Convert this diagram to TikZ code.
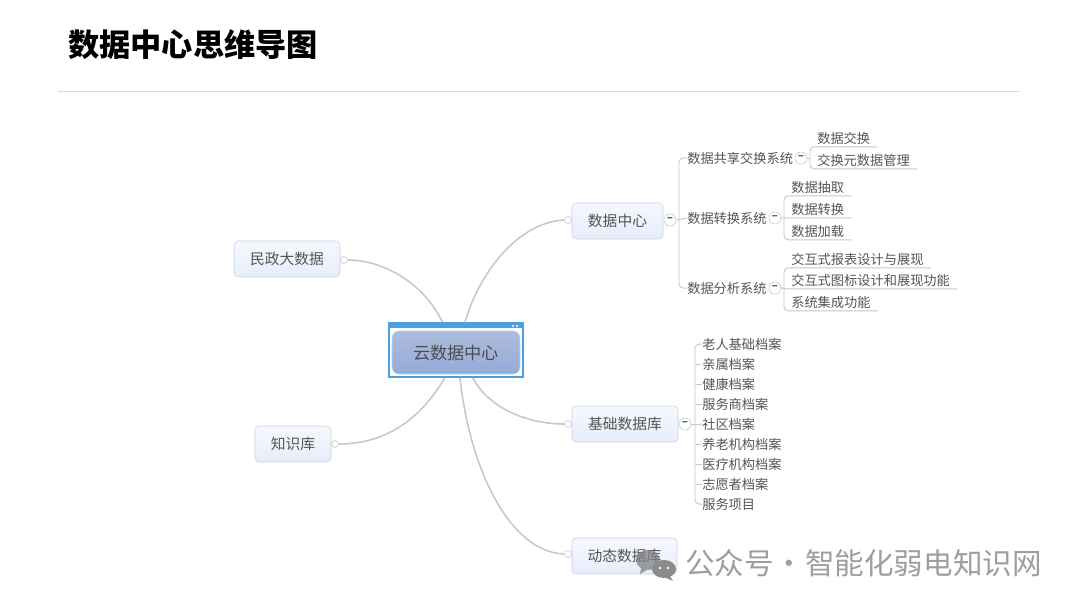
\documentclass[tikz,border=0pt]{standalone}
\usepackage{fontspec}
\setmainfont{Noto Sans CJK SC}
\usetikzlibrary{positioning,calc,shapes}
\definecolor{boxline}{HTML}{C9D2E2}
\definecolor{boxtop}{HTML}{F6F8FD}
\definecolor{boxbot}{HTML}{E6EDFB}
\definecolor{wireline}{HTML}{C8C8C8}
\definecolor{inktext}{HTML}{555555}
\definecolor{selblue}{HTML}{4A9FE0}
\definecolor{cloudtop}{HTML}{ADBDDB}
\definecolor{cloudbot}{HTML}{94AADB}
\tikzset{
  topic/.style={draw=boxline, rounded corners=3pt, top color=boxtop, bottom color=boxbot,
    minimum height=36*0.025cm, inner sep=0pt, font=\fontsize{10.5}{13}\selectfont, text=inktext},
  leaf/.style={anchor=west, inner xsep=7*0.025cm, inner ysep=0pt, minimum height=17*0.025cm,
    font=\fontsize{9.4}{12}\selectfont, text=inktext},
  item/.style={anchor=west, inner xsep=0pt, inner ysep=0pt,
    font=\fontsize{9.4}{12}\selectfont, text=inktext},
  sys/.style={anchor=west, inner sep=0pt, font=\fontsize{9.4}{12}\selectfont, text=inktext},
  dot/.style={circle, draw=wireline, fill=white, minimum size=7*0.025cm, inner sep=0pt},
  fold/.style={circle, draw=wireline, fill=white, minimum size=12*0.025cm, inner sep=0pt,
    font=\fontsize{8}{8}\selectfont\bfseries, text=inktext},
  trunk/.style={draw=wireline, line width=1.1pt},
  branch/.style={draw=wireline, line width=0.7pt, rounded corners=3pt},
}
\begin{document}
\begin{tikzpicture}[x=0.025cm, y=-0.025cm]
  \useasboundingbox (0,0) rectangle (1080,608);
  \fill[white] (0,0) rectangle (1080,608);

  % title
  \node[anchor=west, inner sep=0pt, font=\fontsize{22.2}{28}\selectfont\bfseries, text=black] (title) at (68,45) {数据中心思维导图};
  \coordinate (ruleL) at (58,91);
  \coordinate (ruleR) at (1020,91);
  \draw[black!15, line width=0.6pt] (ruleL) -- (ruleR);

  % centre
  \node[draw=selblue, line width=1.2pt, fill=white, minimum width=134*0.025cm, minimum height=54*0.025cm, inner sep=0pt] (cloud) at (456,350) {};
  \fill[selblue] (cloud.north west) rectangle ($(cloud.north east)+(0,6)$);
  \fill[white!80!selblue] (513,326) circle (1.3) (517,326) circle (1.3);
  \node[rounded corners=5pt, draw=white!60!selblue, top color=cloudtop, bottom color=cloudbot, minimum width=128*0.025cm, minimum height=43*0.025cm, inner sep=0pt,
    font=\fontsize{12.2}{15}\selectfont, text=black!70] (cloudtxt) at (456,352.5) {云数据中心};

  % main topics
  \node[topic, minimum width=91*0.025cm] (center) at (617.5,221) {数据中心};
  \node[topic, minimum width=106*0.025cm] (civil) at (287,259) {民政大数据};
  \node[topic, minimum width=76*0.025cm] (know) at (293,444) {知识库};
  \node[topic, minimum width=106*0.025cm] (base) at (625,424) {基础数据库};
  \node[topic, minimum width=105*0.025cm] (live) at (624.5,556) {动态数据库};

  \node[dot] (dcenter) at (568,220) {};
  \node[dot] (dcivil) at (344,260) {};
  \node[dot] (dknow) at (335,444) {};
  \node[dot] (dbase) at (568,424) {};
  \node[dot] (dlive) at (568,554) {};

  \draw[trunk] (cloud.72) .. controls (480,270) and (520,222) .. (dcenter.west);
  \draw[trunk] (cloud.-59) .. controls (490,410) and (530,424) .. (dbase.west);
  \draw[trunk] (cloud.-82) .. controls (470,470) and (510,552) .. (dlive.west);
  \draw[trunk] (cloud.116) .. controls (425,285) and (385,260) .. (dcivil.east);
  \draw[trunk] (cloud.248) .. controls (420,420) and (385,444) .. (dknow.east);

  % data centre subtree
  \node[fold] (fcenter) at (670,220) {--};
  \node[sys] (s1) at (687,158) {数据共享交换系统};
  \node[sys] (s2) at (687,218) {数据转换系统};
  \node[sys] (s3) at (687,288) {数据分析系统};
  \node[fold] (f1) at (801,158) {--};
  \node[fold] (f2) at (775,218) {--};
  \node[fold] (f3) at (775,288) {--};
  \draw[branch] (s1.west) -| (679,220) |- (s3.west);
  \draw[branch] (fcenter.east) -- (s2.west);

  \node[leaf] (a1) at (810,138) {数据交换};
  \node[leaf] (a2) at (810,160) {交换元数据管理};
  \draw[branch] (a1.south east) -- (a1.south west) -- (a2.south west) -- (a2.south east);
  \draw[branch] (f1.east) -- (f1.east -| a2.west);

  \node[leaf] (b1) at (784,187) {数据抽取};
  \node[leaf] (b2) at (784,209) {数据转换};
  \node[leaf] (b3) at (784,231) {数据加载};
  \draw[branch] (b1.south east) -- (b1.south west) -- (b3.south west) -- (b3.south east);
  \draw[branch] (f2.east) -- (b2.south west) -- (b2.south east);

  \node[leaf] (c1) at (784,259) {交互式报表设计与展现};
  \node[leaf] (c2) at (784,280) {交互式图标设计和展现功能};
  \node[leaf] (c3) at (784,302) {系统集成功能};
  \draw[branch] (c1.south east) -- (c1.south west) -- (c3.south west) -- (c3.south east);
  \draw[branch] (f3.east) -- (c2.south west) -- (c2.south east);

  % base subtree
  \node[fold] (fbase) at (685,424) {--};
  \node[item] (e1) at (702,344) {老人基础档案};
  \node[item] (e2) at (702,364) {亲属档案};
  \node[item] (e3) at (702,384) {健康档案};
  \node[item] (e4) at (702,404) {服务商档案};
  \node[item] (e5) at (702,424) {社区档案};
  \node[item] (e6) at (702,444) {养老机构档案};
  \node[item] (e7) at (702,464) {医疗机构档案};
  \node[item] (e8) at (702,484) {志愿者档案};
  \node[item] (e9) at (702,504) {服务项目};
  \draw[branch] (e1.west) -| (695,424) |- (e9.west);
  \draw[branch] (e2.west) -- ++(-7,0);
  \draw[branch] (e3.west) -- ++(-7,0);
  \draw[branch] (e4.west) -- ++(-7,0);
  \draw[branch] (e6.west) -- ++(-7,0);
  \draw[branch] (e7.west) -- ++(-7,0);
  \draw[branch] (e8.west) -- ++(-7,0);
  \draw[branch] (fbase.east) -- (e5.west);

  % watermark
  \fill[black!50, opacity=0.75] (648,560) ellipse (12 and 10);
  \fill[black!50, opacity=0.75] (641,568) -- (640,574) -- (647,570) -- cycle;
  \fill[black!45] (664,569) ellipse (12 and 9);
  \fill[black!45] (670,576) -- (673,581) -- (664,577) -- cycle;
  \fill[white] (660,568) circle (1.3) (668,568) circle (1.3);
  \node[anchor=west, inner sep=0pt, font=\fontsize{21}{26}\selectfont, text=black!38] (mark) at (685,563) {公众号\hspace{-4pt} · \hspace{-4pt}智能化弱电知识网};
\end{tikzpicture}
\end{document}
